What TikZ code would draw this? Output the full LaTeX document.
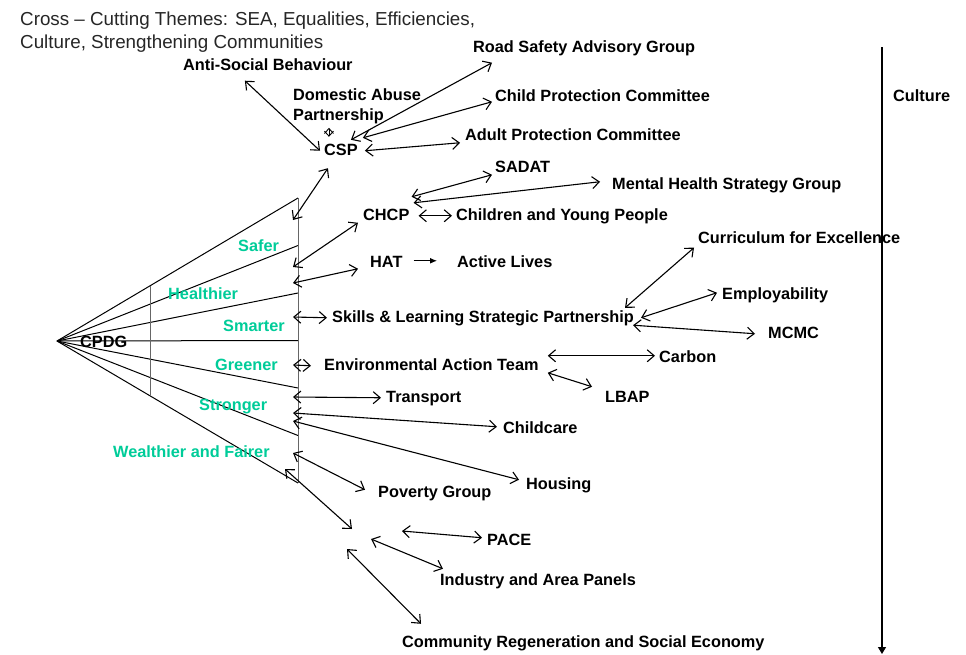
\documentclass[tikz,border=0pt]{standalone}
\usepackage{fontspec}
\setmainfont{Liberation Sans}
\usetikzlibrary{arrows.meta,calc}
\definecolor{themegreen}{RGB}{0,204,153}
\tikzset{txt/.style={font=\fontsize{16.3}{20}\selectfont\bfseries, inner sep=1pt},
lbl/.style={txt, text height=12pt, text depth=3.5pt, anchor=base west},
theme/.style={lbl, text=themegreen},
link/.style={{Straight Barb[length=7pt,width=12pt]}-{Straight Barb[length=7pt,width=12pt]}, line width=1.1pt},
fanline/.style={line width=1pt}}

\begin{document}
\begin{tikzpicture}[x=1pt,y=-1pt]
\useasboundingbox (0,0) rectangle (966,654);

\coordinate (apex) at (57,341);
\foreach \i in {0,...,6}
    \coordinate (r\i) at (298,{198+47.5*\i});

\coordinate (fcsp) at (293,220);
\coordinate (fchcp) at (293,267);
\coordinate (fhat) at (293,283);
\coordinate (fskills) at (293,317);
\coordinate (fenv) at (293,365);
\coordinate (ftrans) at (293,397);
\coordinate (fcare) at (293,413);
\coordinate (fhouse) at (293,421);
\coordinate (fpov) at (293,453);
\coordinate (fhub) at (285,469);

\coordinate (h1) at (352,529);
\coordinate (h2) at (402,531);
\coordinate (h3) at (371,539);
\coordinate (h4) at (347,549);

\coordinate (ctop) at (882,47);
\coordinate (cbot) at (882,654);

\foreach \i in {0,...,6}
    \draw[fanline] (apex) -- (r\i);
\draw[fanline, black!60] (r0) -- (r6);
\draw[fanline, black!60] ($(apex)!0.386!(r0)$) -- ($(apex)!0.386!(r6)$);

\node[anchor=north west, align=left, inner sep=0pt, text=black!85, font=\fontsize{18.8}{23}\selectfont] (title) at (20,11.5) {Cross -- Cutting Themes: SEA, Equalities, Efficiencies,\\Culture, Strengthening Communities};

\node[lbl] (cpdg) at (79,347) {CPDG};
\node[theme] (safer) at (237,251) {Safer};
\node[theme] (healthier) at (167,299) {Healthier};
\node[theme] (smarter) at (222,331) {Smarter};
\node[theme] (greener) at (214,370) {Greener};
\node[theme] (stronger) at (198,410) {Stronger};
\node[theme] (wealthier) at (112,457) {Wealthier and Fairer};

\node[lbl] (asb) at (182,70) {Anti-Social Behaviour};
\node[lbl] (road) at (472,52) {Road Safety Advisory Group};
\node[txt, anchor=north west, align=left] (dom) at (292,87) {Domestic Abuse\\Partnership};
\node[lbl] (childprot) at (494,101) {Child Protection Committee};
\node[lbl] (adult) at (464,140) {Adult Protection Committee};
\node[lbl] (csp) at (323,155) {CSP};
\node[lbl] (sadat) at (494,172) {SADAT};
\node[lbl] (mental) at (611,189) {Mental Health Strategy Group};
\node[lbl] (chcp) at (362,220) {CHCP};
\node[lbl] (children) at (455,220) {Children and Young People};
\node[lbl] (hat) at (369,267) {HAT};
\node[lbl] (active) at (456,267) {Active Lives};
\node[lbl] (curric) at (697,243) {Curriculum for Excellence};
\node[lbl] (employ) at (721,299) {Employability};
\node[lbl] (skills) at (331,322) {Skills \& Learning Strategic Partnership};
\node[lbl] (mcmc) at (767,338) {MCMC};
\node[lbl] (carbon) at (658,362) {Carbon};
\node[lbl] (env) at (323,370) {Environmental Action Team};
\node[lbl] (lbap) at (604,402) {LBAP};
\node[lbl] (transport) at (385,402) {Transport};
\node[lbl] (childcare) at (502,433) {Childcare};
\node[lbl] (housing) at (525,489) {Housing};
\node[lbl] (poverty) at (377,497) {Poverty Group};
\node[lbl] (pace) at (486,545) {PACE};
\node[lbl] (industry) at (439,585) {Industry and Area Panels};
\node[lbl] (community) at (401,647) {Community Regeneration and Social Economy};
\node[lbl] (culture) at (892,101) {Culture};

\draw[link] ([xshift=-23pt,yshift=-6pt]asb.south) -- ([xshift=-3pt]csp.west);
\draw[link] ([xshift=10pt,yshift=2pt]csp.north) -- ([xshift=20pt,yshift=-6pt]road.south west);
\draw[link] ([xshift=4pt,yshift=4pt]csp.north east) -- ([xshift=-2pt,yshift=-5pt]childprot.west);
\draw[link] ([xshift=6pt]csp.east) -- ([xshift=-4pt,yshift=-7pt]adult.west);
\draw[{Straight Barb[length=5pt,width=9pt]}-{Straight Barb[length=5pt,width=9pt]}, line width=0.9pt] ([xshift=-12pt,yshift=14pt]csp.north) -- ([xshift=-12pt,yshift=5pt]csp.north);

\draw[link] (fcsp) -- ([xshift=-13pt,yshift=-8.5pt]csp.south);
\draw[link] (fchcp) -- ([xshift=-4pt,yshift=-7pt]chcp.west);
\draw[link] (fhat) -- ([xshift=-11pt,yshift=-6pt]hat.west);
\draw[line width=1.1pt, -{Latex[length=7pt,width=6pt]}] ([xshift=10pt,yshift=2pt]hat.east) -- ([xshift=-19pt,yshift=2pt]active.west);
\draw[link] ([xshift=8pt]chcp.east) -- ([xshift=-3pt]children.west);
\draw[link] ([xshift=1pt,yshift=10pt]chcp.north east) -- ([xshift=-2pt,yshift=-7pt]sadat.west);
\draw[link] ([xshift=3pt,yshift=4pt]chcp.north east) -- ([xshift=-11pt,yshift=3pt]mental.west);

\draw[link] (fskills) -- ([xshift=-4pt]skills.west);
\draw[link] ([xshift=-10pt,yshift=1pt]skills.north east) -- ([xshift=-3pt]curric.south west);
\draw[link] ([xshift=6pt]skills.east) -- ([xshift=-4pt,yshift=2pt]employ.west);
\draw[link] ([xshift=-2pt,yshift=1.5pt]skills.south east) -- ([xshift=-12pt]mcmc.west);

\draw[link] (fenv) -- ([xshift=-12pt]env.west);
\draw[link] ([xshift=8pt,yshift=10pt]env.east) -- ([xshift=-3pt,yshift=2pt]carbon.west);
\draw[link] ([xshift=8pt,yshift=-7pt]env.east) -- ([xshift=-12pt,yshift=11pt]lbap.west);

\draw[link] (ftrans) -- ([xshift=-4pt]transport.west);
\draw[link] (fcare) -- ([xshift=-5pt,yshift=2pt]childcare.west);
\draw[link] (fhouse) -- ([xshift=-6pt,yshift=5pt]housing.west);
\draw[link] (fpov) -- ([xshift=-12pt,yshift=3pt]poverty.west);

\draw[link] (fhub) -- (h1);
\draw[link] (h2) -- ([xshift=-4pt,yshift=3pt]pace.west);
\draw[link] (h3) -- ([xshift=4pt,yshift=3pt]industry.north west);
\draw[link] (h4) -- ([xshift=20pt,yshift=10pt]community.north west);

\draw[line width=1.2pt, -{Triangle[length=7pt,width=8pt]}] (ctop) -- (cbot);

\end{tikzpicture}
\end{document}
